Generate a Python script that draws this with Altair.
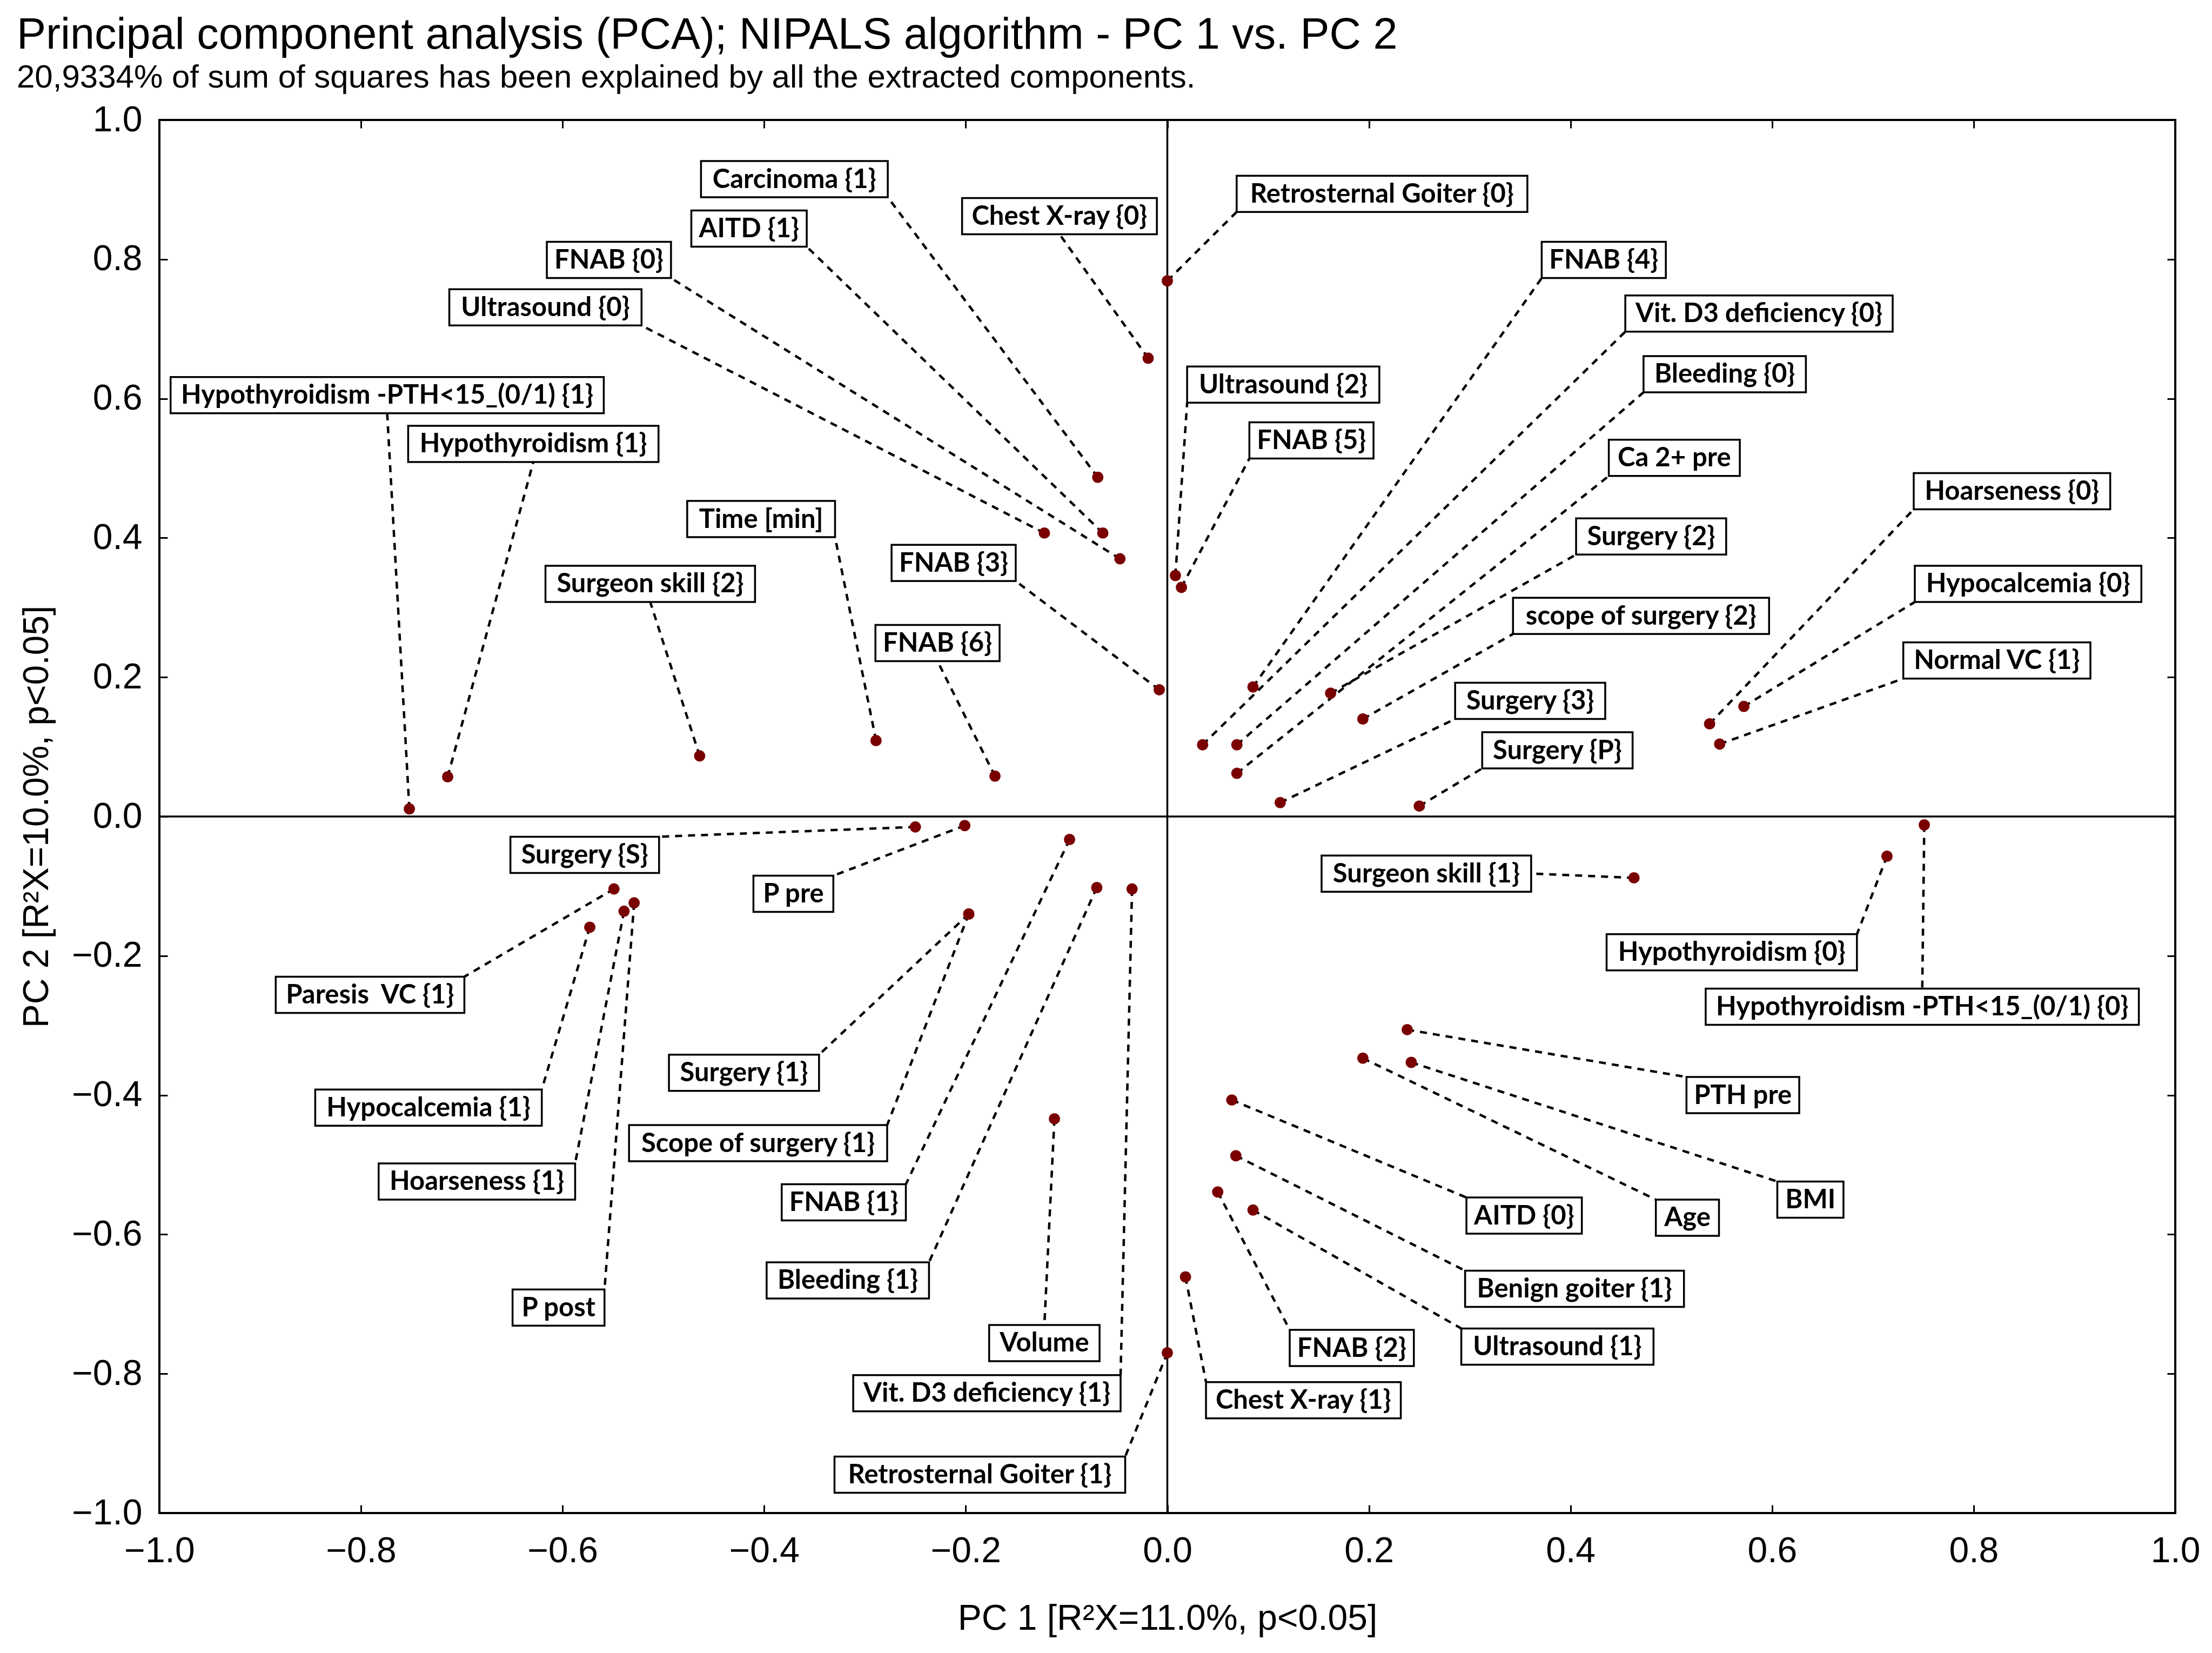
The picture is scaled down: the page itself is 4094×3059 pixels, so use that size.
import altair as alt
import pandas as pd
import numpy as np

# ---------------- text ----------------
TITLE = "Principal component analysis (PCA); NIPALS algorithm - PC 1 vs. PC 2"
SUBTITLE = "20,9334% of sum of squares has been explained by all the extracted components."
X_TITLE = "PC 1 [R²X=11.0%, p<0.05]"
Y_TITLE = "PC 2 [R²X=10.0%, p<0.05]"
TICKS = [-1.0, -0.8, -0.6, -0.4, -0.2, 0.0, 0.2, 0.4, 0.6, 0.8, 1.0]

# ---------------- data (loadings) ----------------
labels = [
    "Hypothyroidism -PTH<15_(0/1) {1}", "Hypothyroidism {1}", "Surgeon skill {2}", "Time [min]",
    "FNAB {6}", "FNAB {3}", "Carcinoma {1}", "AITD {1}", "FNAB {0}", "Ultrasound {0}",
    "Chest X-ray {0}", "Retrosternal Goiter {0}", "Ultrasound {2}", "FNAB {5}", "FNAB {4}",
    "Vit. D3 deficiency {0}", "Bleeding {0}", "Ca 2+ pre", "Surgery {2}", "scope of surgery {2}",
    "Surgery {3}", "Surgery {P}", "Hoarseness {0}", "Hypocalcemia {0}", "Normal VC {1}",
    "Surgery {S}", "P pre", "Paresis  VC {1}", "Hypocalcemia {1}", "Hoarseness {1}",
    "P post", "Surgery {1}", "Scope of surgery {1}", "FNAB {1}", "Bleeding {1}",
    "Volume", "Vit. D3 deficiency {1}", "Retrosternal Goiter {1}", "Chest X-ray {1}", "FNAB {2}",
    "Ultrasound {1}", "Benign goiter {1}", "AITD {0}", "Surgeon skill {1}", "PTH pre",
    "Age", "BMI", "Hypothyroidism {0}", "Hypothyroidism -PTH<15_(0/1) {0}",
]
pc1 = [
    -0.752, -0.714, -0.464, -0.289,
    -0.171, -0.008, -0.069, -0.064, -0.047, -0.122,
    -0.019, 0.000, 0.008, 0.014, 0.085,
    0.035, 0.069, 0.069, 0.162, 0.194,
    0.112, 0.250, 0.538, 0.572, 0.548,
    -0.250, -0.201, -0.549, -0.573, -0.539,
    -0.529, -0.197, -0.197, -0.097, -0.070,
    -0.112, -0.035, 0.000, 0.018, 0.050,
    0.085, 0.068, 0.064, 0.463, 0.238,
    0.194, 0.242, 0.714, 0.751,
]
pc2 = [
    0.011, 0.057, 0.087, 0.109,
    0.058, 0.182, 0.487, 0.407, 0.370, 0.407,
    0.658, 0.769, 0.346, 0.329, 0.186,
    0.103, 0.103, 0.062, 0.177, 0.140,
    0.020, 0.015, 0.133, 0.158, 0.104,
    -0.015, -0.013, -0.104, -0.159, -0.136,
    -0.124, -0.140, -0.140, -0.033, -0.102,
    -0.434, -0.104, -0.770, -0.661, -0.539,
    -0.565, -0.487, -0.407, -0.088, -0.306,
    -0.347, -0.353, -0.057, -0.012,
]

# ---------------- label layout (box centre, in axis units) ----------------
label_cx = [
    -0.774, -0.629, -0.513, -0.403,
    -0.228, -0.212, -0.370, -0.415, -0.554, -0.617,
    -0.107, 0.213, 0.115, 0.143, 0.433,
    0.587, 0.553, 0.503, 0.480, 0.470,
    0.360, 0.387, 0.838, 0.854, 0.823,
    -0.578, -0.371, -0.791, -0.733, -0.685,
    -0.604, -0.420, -0.406, -0.321, -0.317,
    -0.122, -0.179, -0.186, 0.135, 0.183,
    0.387, 0.404, 0.354, 0.257, 0.571,
    0.516, 0.638, 0.560, 0.749,
]
label_cy = [
    0.605, 0.535, 0.334, 0.427,
    0.249, 0.364, 0.915, 0.844, 0.799, 0.731,
    0.862, 0.894, 0.620, 0.540, 0.799,
    0.722, 0.635, 0.515, 0.402, 0.288,
    0.166, 0.095, 0.467, 0.334, 0.224,
    -0.055, -0.111, -0.256, -0.418, -0.524,
    -0.705, -0.368, -0.469, -0.554, -0.666,
    -0.756, -0.828, -0.945, -0.838, -0.763,
    -0.761, -0.678, -0.573, -0.082, -0.400,
    -0.576, -0.550, -0.195, -0.273,
]
# where the leader line meets the box
attach = [
    "bc", "bc", "bc", "br",
    "bc", "br", "br", "br", "br", "br",
    "bc", "bl", "bl", "bl", "bl",
    "bl", "bl", "bl", "bl", "bl",
    "bl", "bl", "bl", "bl", "bl",
    "tr", "tr", "tr", "tr", "tr",
    "tr", "tr", "tr", "tr", "tr",
    "tc", "tr", "tr", "tl", "tl",
    "tl", "tl", "tl", "r", "tl",
    "tl", "tl", "tr", "tc",
]

# ---------------- geometry / style ----------------
W, H = 3731, 2578
LABEL_FONT = "Lato"
LABEL_SIZE = 49
REF_SIZE = 54.8          # size of the narrow reference face the boxes are measured for
BOX_PAD = 16
BOX_H = 67

# advance widths (em) of a narrow humanist sans used to size the boxes
EM = {" ": .226, "a": .479, "b": .525, "c": .423, "d": .525, "e": .498, "f": .305, "g": .471,
      "h": .525, "i": .229, "j": .239, "k": .455, "l": .229, "m": .799, "n": .525, "o": .527,
      "p": .525, "q": .525, "r": .349, "s": .391, "t": .335, "u": .525, "v": .452, "w": .715,
      "x": .433, "y": .453, "z": .395, "A": .579, "B": .544, "C": .533, "D": .615, "E": .488,
      "F": .459, "G": .631, "H": .623, "I": .252, "K": .520, "L": .420, "M": .855, "N": .646,
      "O": .662, "P": .517, "R": .543, "S": .459, "T": .487, "U": .642, "V": .567, "X": .519,
      ".": .252, ",": .250, "-": .306, "_": .498, "<": .498, "/": .386, "+": .498, "(": .303,
      ")": .303, "[": .309, "]": .309, "{": .324, "}": .324}


def text_px(s):
    return sum(EM.get(ch, .507) for ch in s) * REF_SIZE


ux = W / 2.0   # px per axis unit
uy = H / 2.0

rows = []
for lab, px, py, cx, cy, at in zip(labels, pc1, pc2, label_cx, label_cy, attach):
    hw = (text_px(lab) + 2 * BOX_PAD) / 2 / ux
    hh = BOX_H / 2 / uy
    if at == "r":
        ax, ay = cx + hw, cy
    else:
        ax = {"l": cx - hw, "r": cx + hw, "c": cx}[at[-1]]
        ay = cy + hh if at[0] == "t" else cy - hh
    rows.append(dict(label=lab, shown=lab.replace("  ", "\u00a0 "), pc1=px, pc2=py, cx=cx, cy=cy,
                     bx1=cx - hw, bx2=cx + hw, by1=cy - hh, by2=cy + hh, ax=ax, ay=ay))
df = pd.DataFrame(rows)

xs = alt.Scale(domain=[-1, 1], nice=False, zero=False)
ys = alt.Scale(domain=[-1, 1], nice=False, zero=False)

ax_common = dict(values=TICKS, format=".1f", grid=False, domain=False, ticks=True,
                 tickSize=15, tickWidth=3, tickColor="black", offset=-15, labelFlush=False,
                 labelFont="Liberation Sans", labelFontSize=66, labelColor="black",
                 titleFont="Liberation Sans", titleFontSize=66, titleFontWeight="normal",
                 titleColor="black")

x_bottom = alt.Axis(orient="bottom", title=X_TITLE, labelPadding=38, titlePadding=60, **ax_common)
y_left = alt.Axis(orient="left", title=Y_TITLE, labelPadding=32, titlePadding=30, **ax_common)
x_top = alt.Axis(orient="top", title=None, labels=False, **ax_common)
y_right = alt.Axis(orient="right", title=None, labels=False, **ax_common)

zero = pd.DataFrame({"v": [0.0]})

vrule = alt.Chart(zero).mark_rule(color="black", strokeWidth=3.5).encode(
    x=alt.X("v:Q", scale=xs, axis=x_bottom))
hrule = alt.Chart(zero).mark_rule(color="black", strokeWidth=3.5).encode(
    y=alt.Y("v:Q", scale=ys, axis=y_left))

base = alt.Chart(df)

leaders = base.mark_rule(color="black", strokeWidth=4.5, strokeDash=[13, 11]).encode(
    x=alt.X("pc1:Q", scale=xs, axis=None), y=alt.Y("pc2:Q", scale=ys, axis=None),
    x2="ax:Q", y2="ay:Q")

boxes = base.mark_rect(fill="white", stroke="black", strokeWidth=3.5).encode(
    x=alt.X("bx1:Q", scale=xs, axis=None), x2="bx2:Q",
    y=alt.Y("by1:Q", scale=ys, axis=None), y2="by2:Q")

texts = base.mark_text(font=LABEL_FONT, fontSize=LABEL_SIZE, fontWeight="bold", color="#000000",
                       align="center", baseline="middle", dy=1).encode(
    x=alt.X("cx:Q", scale=xs, axis=None), y=alt.Y("cy:Q", scale=ys, axis=None),
    text="shown:N")

points = base.mark_circle(color="#7a0000", opacity=1, size=440).encode(
    x=alt.X("pc1:Q", scale=xs, axis=x_top), y=alt.Y("pc2:Q", scale=ys, axis=y_right))

chart = alt.layer(vrule, hrule, leaders, boxes, texts, points).resolve_axis(
    x="independent", y="independent"
).properties(
    width=W, height=H,
    autosize=alt.AutoSizeParams(type="none"),
    padding={"left": 295, "top": 222, "right": 68, "bottom": 259},
    title=alt.TitleParams(
        text=TITLE, subtitle=SUBTITLE, anchor="start", frame="group", dx=-264,
        font="Liberation Sans", fontSize=81, fontWeight="normal", color="black",
        subtitleFont="Liberation Sans", subtitleFontSize=60, subtitleColor="black",
        subtitlePadding=8, offset=14),
    background="white",
).configure_view(stroke="black", strokeWidth=4)

chart.save("out.html", embed_options={"renderer": "svg", "actions": False})
